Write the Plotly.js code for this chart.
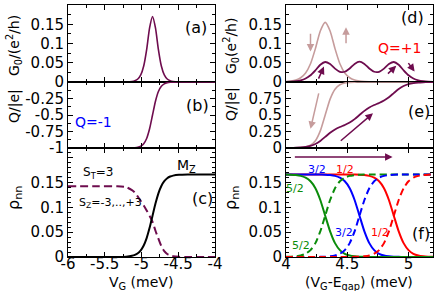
<!DOCTYPE html>
<html>
<head>
<meta charset="utf-8">
<script src="https://cdn.plot.ly/plotly-3.0.1.min.js"></script>
<style>html,body{margin:0;padding:0;background:#fff;}#plot{width:436px;height:291px;}</style>
</head>
<body>
<div id="plot"></div>
<script>
// ---------- data: left column (a)-(c) ----------
const vgLeft = [-6.00, -5.60, -5.33, -5.21, -5.13, -5.09, -5.05, -5.01, -4.97, -4.93, -4.89, -4.85, -4.81, -4.77, -4.73, -4.69, -4.65, -4.61, -4.57, -4.49, -4.37, -4.00];
const g0Left = [0, 0, 0, 0.0002, 0.0013, 0.0033, 0.0078, 0.0184, 0.0414, 0.0840, 0.1404, 0.1700, 0.1404, 0.0840, 0.0414, 0.0184, 0.0078, 0.0033, 0.0013, 0.0002, 0, 0];
const qLeft = [-1, -1, -1, -0.9997, -0.998, -0.9952, -0.9884, -0.9722, -0.935, -0.8554, -0.7087, -0.5, -0.2913, -0.1446, -0.065, -0.0278, -0.0116, -0.0048, -0.002, -0.0003, 0, 0];
const rhoMz = [0, 0, 0.0001, 0.0007, 0.0024, 0.0043, 0.0077, 0.0136, 0.0233, 0.0382, 0.0589, 0.0833, 0.1078, 0.1285, 0.1434, 0.1531, 0.1590, 0.1624, 0.1643, 0.1660, 0.1666, 0.1667];
const rhoSz = [0.143, 0.143, 0.1428, 0.141, 0.135, 0.130, 0.122, 0.113, 0.104, 0.094, 0.083, 0.071, 0.053, 0.037, 0.022, 0.012, 0.006, 0.003, 0.0015, 0.0003, 0, 0];

// ---------- data: right column (d)-(f) ----------
const vgRight = [4.00, 4.04, 4.08, 4.12, 4.16, 4.20, 4.24, 4.28, 4.32, 4.36, 4.40, 4.44, 4.48, 4.52, 4.56, 4.60, 4.64, 4.68, 4.72, 4.76, 4.80, 4.84, 4.88, 4.92, 4.96, 5.00, 5.04, 5.08, 5.12, 5.16, 5.20];
const g0Light = [0.0010, 0.0023, 0.0050, 0.0110, 0.0233, 0.0473, 0.0867, 0.1326, 0.1550, 0.1326, 0.0867, 0.0473, 0.0233, 0.0110, 0.0050, 0.0023, 0.0010, 0.0005, 0.0002, 0.0001, 0, 0, 0, 0, 0, 0, 0, 0, 0, 0, 0];
const g0Dark = [0.0005, 0.0010, 0.0022, 0.0045, 0.0091, 0.0175, 0.0305, 0.0449, 0.0520, 0.0466, 0.0348, 0.0265, 0.0266, 0.0350, 0.0470, 0.0530, 0.0470, 0.0350, 0.0266, 0.0265, 0.0348, 0.0466, 0.0520, 0.0449, 0.0305, 0.0175, 0.0091, 0.0045, 0.0022, 0.0010, 0.0005];
const qLight = [0.0002, 0.0006, 0.0018, 0.0052, 0.0146, 0.041, 0.109, 0.259, 0.5, 0.741, 0.891, 0.959, 0.9854, 0.9948, 0.9982, 0.9994, 0.9998, 1, 1, 1, 1, 1, 1, 1, 1, 1, 1, 1, 1, 1, 1];
const qDark = [0.0008, 0.0017, 0.0036, 0.0075, 0.0157, 0.0315, 0.0607, 0.1075, 0.1683, 0.2302, 0.2805, 0.3177, 0.349, 0.3865, 0.4372, 0.5, 0.5628, 0.6135, 0.651, 0.6823, 0.7195, 0.7698, 0.8317, 0.8925, 0.9393, 0.9685, 0.9843, 0.9925, 0.9964, 0.9983, 0.9992];
const rho52Solid = [0.1664, 0.1661, 0.1653, 0.1637, 0.1601, 0.1528, 0.1387, 0.1150, 0.0833, 0.0517, 0.0280, 0.0139, 0.0065, 0.0030, 0.0014, 0.0006, 0.0003, 0.0001, 0, 0, 0, 0, 0, 0, 0, 0, 0, 0, 0, 0, 0];
const rho52Dash = [0.0003, 0.0006, 0.0014, 0.0030, 0.0066, 0.0139, 0.0280, 0.0517, 0.0834, 0.1150, 0.1387, 0.1528, 0.1602, 0.1637, 0.1653, 0.1661, 0.1664, 0.1666, 0.1667, 0.1667, 0.1667, 0.1667, 0.1667, 0.1667, 0.1667, 0.1667, 0.1667, 0.1667, 0.1667, 0.1667, 0.1667];
const rho32Solid = [0.1667, 0.1667, 0.1667, 0.1667, 0.1667, 0.1667, 0.1667, 0.1664, 0.1661, 0.1653, 0.1637, 0.1601, 0.1528, 0.1387, 0.1150, 0.0833, 0.0517, 0.0280, 0.0139, 0.0065, 0.0030, 0.0014, 0.0006, 0.0003, 0.0001, 0, 0, 0, 0, 0, 0];
const rho32Dash = [0, 0, 0, 0, 0, 0, 0, 0.0003, 0.0006, 0.0014, 0.0030, 0.0066, 0.0139, 0.0280, 0.0517, 0.0834, 0.1150, 0.1387, 0.1528, 0.1602, 0.1637, 0.1653, 0.1661, 0.1664, 0.1666, 0.1667, 0.1667, 0.1667, 0.1667, 0.1667, 0.1667];
const rho12Solid = [0.1667, 0.1667, 0.1667, 0.1667, 0.1667, 0.1667, 0.1667, 0.1667, 0.1667, 0.1667, 0.1667, 0.1667, 0.1667, 0.1667, 0.1664, 0.1661, 0.1653, 0.1637, 0.1601, 0.1528, 0.1387, 0.1150, 0.0833, 0.0517, 0.0280, 0.0139, 0.0065, 0.0030, 0.0014, 0.0006, 0.0003];
const rho12Dash = [0, 0, 0, 0, 0, 0, 0, 0, 0, 0, 0, 0, 0, 0, 0.0003, 0.0006, 0.0014, 0.0030, 0.0066, 0.0139, 0.0280, 0.0517, 0.0834, 0.1150, 0.1387, 0.1528, 0.1602, 0.1637, 0.1653, 0.1661, 0.1664];
const rhoFBase = [0, 0, 0, 0, 0, 0, 0, 0, 0, 0, 0, 0, 0, 0, 0, 0, 0, 0, 0, 0, 0, 0, 0, 0, 0, 0, 0, 0, 0, 0, 0];

// ---------- tick labels ----------
const xTickValsLeft = [-6, -5.5, -5, -4.5, -4];
const xTickTextLeft = ['-6', '-5.5', '-5', '-4.5', '-4'];
const xTickValsRight = [4, 4.5, 5];
const xTickTextRight = ['4', '4.5', '5'];
const yTickValsG = [0, 0.05, 0.1, 0.15, 0.2];
const yTickTextG = ['0', '0.05', '0.1', '0.15', '0.2'];
const yTickValsQneg = [-1, -0.75, -0.5, -0.25, 0];
const yTickTextQneg = ['-1', '-0.75', '-0.5', '-0.25', ''];
const yTickValsQpos = [0, 0.25, 0.5, 0.75, 1];
const yTickTextQpos = ['0', '0.25', '0.5', '0.75', ''];
const yTickValsRho = [0, 0.05, 0.1, 0.15, 0.2];
const yTickTextRho = ['0', '0.05', '0.1', '0.15', ''];

// ---------- styles ----------
const DARK = '#6e0c4e';
const LIGHT = '#c69c9c';
const GREEN = '#0a8c0a';
const BLUE = '#0000ff';
const RED = '#ff0000';
const FONT = 'DejaVu Sans';

function line(x, y, xa, ya, color, width, dash) {
  return {x: x, y: y, xaxis: xa, yaxis: ya, type: 'scatter', mode: 'lines',
    line: {color: color, width: width, dash: dash || 'solid', shape: 'spline', smoothing: 0.6},
    hoverinfo: 'skip', showlegend: false};
}

const traces = [
  line(vgLeft, g0Left, 'x', 'y', DARK, 1.6),
  line(vgLeft, qLeft, 'x2', 'y2', DARK, 1.6),
  line(vgLeft, rhoSz, 'x3', 'y3', DARK, 2, '8px,4px'),
  line(vgLeft, rhoMz, 'x3', 'y3', '#000000', 2),
  line(vgRight, g0Light, 'x4', 'y4', LIGHT, 1.6),
  line(vgRight, g0Dark, 'x4', 'y4', DARK, 1.8),
  line(vgRight, qLight, 'x5', 'y5', LIGHT, 1.6),
  line(vgRight, qDark, 'x5', 'y5', DARK, 1.8),
  line(vgRight, rhoFBase, 'x6', 'y6', DARK, 2, '7px,4px'),
  line(vgRight, rho12Solid, 'x6', 'y6', RED, 2),
  line(vgRight, rho32Solid, 'x6', 'y6', BLUE, 2),
  line(vgRight, rho52Solid, 'x6', 'y6', GREEN, 2),
  line(vgRight, rho52Dash, 'x6', 'y6', GREEN, 2, '7px,4px'),
  line(vgRight, rho32Dash, 'x6', 'y6', BLUE, 2, '7px,4px'),
  line(vgRight, rho12Dash, 'x6', 'y6', RED, 2, '7px,4px')
];

const W = 436, H = 291;
const colL = [68 / W, 215 / W], colR = [286 / W, 433 / W];
const rowA = [1 - 82 / H, 1 - 5 / H], rowB = [1 - 148 / H, 1 - 82 / H], rowC = [1 - 257 / H, 1 - 148 / H];

const common = {showline: true, linecolor: '#000', linewidth: 1, mirror: 'allticks', ticks: 'inside',
  ticklen: 5, tickwidth: 1, tickcolor: '#000', showgrid: false, zeroline: false, fixedrange: true,
  tickfont: {family: FONT, size: 15, color: '#000'}, tickmode: 'array'};
function minor(t0, dt) { return {ticks: 'inside', ticklen: 3, tickwidth: 1, tickcolor: '#000', tickmode: 'linear', tick0: t0, dtick: dt, showgrid: false}; }

function xLeft(anchor, dom, labels) {
  return Object.assign({}, common, {domain: dom, anchor: anchor, range: [-6, -4], tickvals: xTickValsLeft, ticktext: xTickTextLeft, showticklabels: labels, ticklabelstandoff: -7, minor: minor(-6, 0.25)});
}
function xRight(anchor, dom, labels) {
  return Object.assign({}, common, {domain: dom, anchor: anchor, range: [4, 5.2], tickvals: xTickValsRight, ticktext: xTickTextRight, showticklabels: labels, ticklabelstandoff: -7, minor: minor(4, 0.25)});
}
function yAx(anchor, dom, range, vals, text, t0, dt) {
  return Object.assign({}, common, {domain: dom, anchor: anchor, range: range, tickvals: vals, ticktext: text, minor: minor(t0, dt)});
}

function P(x, y) { return {x: x / W, y: 1 - y / H, xref: 'paper', yref: 'paper'}; }
function label(x, y, text, size, color, angle) {
  return Object.assign(P(x, y), {text: text, showarrow: false, xanchor: 'center', yanchor: 'middle',
    textangle: angle || 0, font: {family: FONT, size: size, color: color || '#000'}});
}
function arrow(xa, ya, x0, y0, x1, y1, color) {
  return {xref: xa, yref: ya, axref: xa, ayref: ya, ax: x0, ay: y0, x: x1, y: y1, text: '',
    showarrow: true, arrowhead: 2, arrowsize: 1, arrowwidth: 1.5, arrowcolor: color};
}

const annotations = [
  label(14, 46, 'G<sub>0</sub>/(e<sup>2</sup>/h)', 14, '#000', -90),
  label(14, 106, 'Q/|e|', 14, '#000', -90),
  label(14, 198, 'ρ<sub>nn</sub>', 16, '#000', -90),
  label(231, 46, 'G<sub>0</sub>(e<sup>2</sup>/h)', 14, '#000', -90),
  label(231, 104, 'Q/|e|', 14, '#000', -90),
  label(231, 198, 'ρ<sub>nn</sub>', 16, '#000', -90),
  label(141, 283, 'V<sub>G</sub> (meV)', 14),
  label(359, 283, '(V<sub>G</sub>-E<sub>gap</sub>) (meV)', 14),
  label(196, 27, '(a)', 16),
  label(197, 105, '(b)', 16),
  label(202, 198, '(c)', 16),
  label(412, 17, '(d)', 16),
  label(419, 112, '(e)', 16),
  label(421, 233, '(f)', 16),
  label(93, 122, 'Q=-1', 14, BLUE),
  label(399, 48, 'Q=+1', 14, RED),
  label(186, 166, 'M<sub>Z</sub>', 14),
  label(98, 173, 'S<sub>T</sub>=3', 12),
  label(110, 203, 'S<sub>Z</sub>=-3,..,+3', 11),
  label(317, 169, '3/2', 11, BLUE),
  label(345, 169, '1/2', 11, RED),
  label(295, 188, '5/2', 11, GREEN),
  label(301, 245, '5/2', 11, GREEN),
  label(344, 232, '3/2', 11, BLUE),
  label(380, 232, '1/2', 11, RED),
  arrow('x4', 'y4', 4.20, 0.129, 4.20, 0.079, LIGHT),
  arrow('x4', 'y4', 4.49, 0.097, 4.49, 0.142, LIGHT),
  arrow('x4', 'y4', 4.26, 0.005, 4.31, 0.040, DARK),
  arrow('x4', 'y4', 4.82, 0.018, 4.90, 0.042, DARK),
  arrow('x4', 'y4', 4.99, 0.053, 5.05, 0.027, DARK),
  arrow('x5', 'y5', 4.27, 0.85, 4.20, 0.29, LIGHT),
  arrow('x5', 'y5', 4.435, 0.09, 4.71, 0.525, DARK),
  arrow('x6', 'y6', 4.06, 0.202, 4.87, 0.202, DARK)
];

const layout = {
  width: W, height: H, margin: {l: 0, r: 0, t: 0, b: 0}, paper_bgcolor: '#fff', plot_bgcolor: '#fff',
  font: {family: FONT, size: 14, color: '#000'}, showlegend: false,
  xaxis: xLeft('y', colL, false),
  yaxis: yAx('x', rowA, [0, 0.2], yTickValsG, yTickTextG, 0, 0.025),
  xaxis2: xLeft('y2', colL, false),
  yaxis2: yAx('x2', rowB, [-1, 0], yTickValsQneg, yTickTextQneg, -1, 0.125),
  xaxis3: xLeft('y3', colL, true),
  yaxis3: yAx('x3', rowC, [0, 0.22], yTickValsRho, yTickTextRho, 0, 0.01),
  xaxis4: xRight('y4', colR, false),
  yaxis4: yAx('x4', rowA, [0, 0.2], yTickValsG, yTickTextG, 0, 0.025),
  xaxis5: xRight('y5', colR, false),
  yaxis5: yAx('x5', rowB, [0, 1], yTickValsQpos, yTickTextQpos, 0, 0.125),
  xaxis6: xRight('y6', colR, true),
  yaxis6: yAx('x6', rowC, [0, 0.22], yTickValsRho, yTickTextRho, 0, 0.01),
  annotations: annotations
};

Plotly.newPlot('plot', traces, layout, {staticPlot: true, displayModeBar: false});
</script>
</body>
</html>
